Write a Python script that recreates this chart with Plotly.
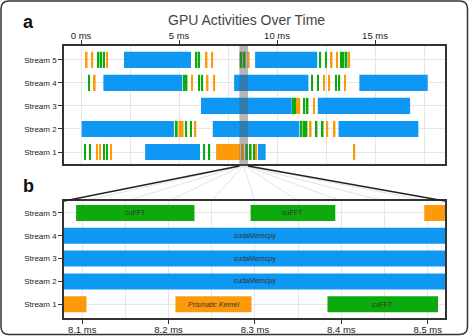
import plotly.graph_objects as go

# ---------------- data (ms) ----------------
streams = ["Stream 1", "Stream 2", "Stream 3", "Stream 4", "Stream 5"]

# cudaMemcpy segments (blue)
memcpy_stream = ["Stream 5", "Stream 5", "Stream 4", "Stream 4", "Stream 4",
                 "Stream 3", "Stream 3", "Stream 2", "Stream 2", "Stream 2",
                 "Stream 1", "Stream 1"]
memcpy_start = [2.19, 8.88, 1.14, 7.81, 14.20, 6.12, 12.08, 0.03, 6.72, 13.14, 3.27, 9.03]
memcpy_end = [5.61, 12.05, 5.17, 11.60, 17.69, 10.75, 16.79, 4.74, 11.14, 17.21, 6.07, 9.42]

# cuFFT segments (green)
fft_stream = (["Stream 5"] * 14 + ["Stream 4"] * 9 + ["Stream 3"] * 4 +
              ["Stream 2"] * 9 + ["Stream 1"] * 9)
fft_start = [0.86, 1.00, 1.13, 5.86, 5.98, 8.093, 8.295, 12.17, 12.47, 13.23, 13.36, 13.51, 0.0, 0.0,
             0.37, 5.23, 5.35, 5.98, 6.15, 11.76, 12.04, 12.97, 13.14,
             10.78, 10.88, 11.36, 11.52,
             4.79, 5.33, 5.57, 11.22, 11.35, 11.47, 11.98, 12.29, 0.0,
             0.16, 0.42, 1.14, 1.29, 6.25, 6.51, 8.384, 8.62, 8.78]
fft_end = [0.94, 1.08, 1.21, 5.94, 6.06, 8.230, 8.393, 12.25, 12.55, 13.31, 13.44, 13.59, 0.0, 0.0,
           0.45, 5.31, 5.43, 6.06, 6.23, 11.84, 12.12, 13.05, 13.22,
           10.86, 10.96, 11.44, 11.60,
           4.93, 5.41, 5.65, 11.30, 11.43, 11.55, 12.06, 12.37, 0.0,
           0.24, 0.50, 1.22, 1.37, 6.33, 6.59, 8.512, 8.70, 8.86]

# kernel segments (orange)
kern_stream = (["Stream 5"] * 10 + ["Stream 4"] * 6 + ["Stream 3"] * 3 +
               ["Stream 2"] * 4 + ["Stream 1"] * 9)
kern_start = [0.25, 0.54, 1.30, 6.37, 6.66, 8.496, 12.75, 13.02, 13.65, 0.0,
              0.66, 5.61, 6.42, 6.76, 12.37, 12.63,
              10.98, 11.10, 11.85,
              4.97, 5.80, 11.68, 12.53,
              0.77, 0.93, 1.50, 6.89, 8.208, 8.91, 13.91, 0.0, 0.0]
kern_end = [0.33, 0.62, 1.38, 6.45, 6.74, 8.60, 12.83, 13.10, 13.73, 0.0,
            0.74, 5.69, 6.50, 6.84, 12.45, 12.71,
            11.08, 11.18, 11.93,
            5.23, 5.88, 11.76, 12.61,
            0.85, 1.01, 1.58, 8.105, 8.296, 8.99, 13.99, 0.0, 0.0]

# a few extra orange marks on stream 4 / 2 right side
extra_kern_stream = ["Stream 4", "Stream 2"]
extra_kern_start = [13.43, 12.90]
extra_kern_end = [13.51, 12.98]

kind_labels = {"memcpy": "cudaMemcpy", "fft": "cuFFT", "kern": "Prismatic Kernel"}

full_range = [-0.87, 18.57]
zoom_range = [8.079, 8.520]

colors = {"memcpy": "#0F97F4", "fft": "#0CAA0C", "kern": "#FD9A0A"}

# ---------------- layout geometry ----------------
W, H = 469, 336
top_dom_x = [64 / W, 445 / W]
top_dom_y = [1 - 164 / H, 1 - 46 / H]
bot_dom_y = [1 - 318 / H, 1 - 201 / H]

font_family = "Liberation Sans, Arial, sans-serif"

fig = go.Figure()

series = [
    ("memcpy", memcpy_stream, memcpy_start, memcpy_end),
    ("fft", fft_stream, fft_start, fft_end),
    ("kern", kern_stream + extra_kern_stream, kern_start + extra_kern_start,
     kern_end + extra_kern_end),
]

for axis_suffix in ["", "2"]:
    for kind, st, s0, s1 in series:
        seg = [(a, b, c) for a, b, c in zip(st, s0, s1) if c > b]
        fig.add_trace(go.Bar(
            orientation="h",
            y=[p[0] for p in seg],
            base=[p[1] for p in seg],
            x=[p[2] - p[1] for p in seg],
            marker=dict(color=colors[kind], line=dict(width=0)),
            width=0.7,
            xaxis="x" + axis_suffix, yaxis="y" + axis_suffix,
            showlegend=False, hoverinfo="skip",
        ))

# labels in zoom panel
for kind, st, s0, s1 in series:
    for a, b, c in zip(st, s0, s1):
        lo, hi = max(b, zoom_range[0]), min(c, zoom_range[1])
        if hi - lo >= 0.05:
            txt = kind_labels[kind]
            if kind == "kern":
                txt = "<i>" + txt + "</i>"
            fig.add_annotation(x=(lo + hi) / 2, y=a, xref="x2", yref="y2", text=txt,
                               showarrow=False, font=dict(size=7, color="#333", family=font_family))

axis_common = dict(showline=True, linecolor="#333", linewidth=1.5, mirror=True,
                   gridcolor="#e6e6e6", gridwidth=1, zeroline=False,
                   ticks="outside", ticklen=4, tickcolor="#333",
                   tickfont=dict(size=9.5, color="#222", family=font_family))
yaxis_common = dict(axis_common, type="category", categoryorder="array",
                    categoryarray=streams, tickfont=dict(size=8, color="#222", family=font_family))

fig.update_layout(
    width=W, height=H, margin=dict(l=0, r=0, t=0, b=0),
    paper_bgcolor="white", plot_bgcolor="white",
    barmode="overlay", bargap=0.3,
    xaxis=dict(axis_common, domain=top_dom_x, anchor="y", side="top", range=full_range,
               tick0=0, dtick=5, ticksuffix=" ms", ticklabelstandoff=-3,
               minor=dict(dtick=2.5, tick0=0, showgrid=True, gridcolor="#e6e6e6")),
    yaxis=dict(yaxis_common, domain=top_dom_y, anchor="x", range=[-0.52, 4.6]),
    xaxis2=dict(axis_common, domain=top_dom_x, anchor="y2", range=zoom_range,
                tick0=8.1, dtick=0.1, tickformat=".1f", ticksuffix=" ms", ticklabelstandoff=-2,
                minor=dict(dtick=0.05, tick0=8.1, showgrid=True, gridcolor="#e6e6e6")),
    yaxis2=dict(yaxis_common, domain=bot_dom_y, anchor="x2", range=[-0.6, 4.52]),
    font=dict(family=font_family),
)

# highlight band on overview
fig.add_shape(type="rect", xref="x", yref="paper", x0=zoom_range[0], x1=zoom_range[1],
              y0=top_dom_y[0] - 2 / H, y1=top_dom_y[1], fillcolor="rgba(90,90,90,0.45)",
              line=dict(width=0), layer="above")


def top_paper_x(v):
    return top_dom_x[0] + (v - full_range[0]) / (full_range[1] - full_range[0]) * (top_dom_x[1] - top_dom_x[0])


def bot_paper_x(v):
    return top_dom_x[0] + (v - zoom_range[0]) / (zoom_range[1] - zoom_range[0]) * (top_dom_x[1] - top_dom_x[0])


y_from = top_dom_y[0] - 2 / H
y_to = bot_dom_y[1]
# fan lines at grid positions
grid_vals = [8.1, 8.15, 8.2, 8.25, 8.3, 8.35, 8.4, 8.45, 8.5]
for v in grid_vals:
    fig.add_shape(type="line", xref="paper", yref="paper",
                  x0=top_paper_x(v), y0=y_from, x1=bot_paper_x(v), y1=y_to,
                  line=dict(color="#e3e3e3", width=1), layer="below")
for v in zoom_range:
    fig.add_shape(type="line", xref="paper", yref="paper",
                  x0=top_paper_x(v), y0=y_from, x1=bot_paper_x(v), y1=y_to,
                  line=dict(color="#222", width=1.3))

# outer rounded border
l, r, b, t = 1 / W, 467.5 / W, 1 - 334.5 / H, 1 - 1 / H
rx, ry = 8 / W, 8 / H
path = (f"M {l+rx},{b} L {r-rx},{b} Q {r},{b} {r},{b+ry} L {r},{t-ry} Q {r},{t} {r-rx},{t} "
        f"L {l+rx},{t} Q {l},{t} {l},{t-ry} L {l},{b+ry} Q {l},{b} {l+rx},{b} Z")
fig.add_shape(type="path", xref="paper", yref="paper", path=path,
              line=dict(color="#333", width=1.5))

fig.add_annotation(x=246 / W, y=1 - 20 / H, xref="paper", yref="paper", text="GPU Activities Over Time",
                   showarrow=False, yanchor="middle", xanchor="center",
                   font=dict(size=14, color="#444", family=font_family))
fig.add_annotation(x=28 / W, y=1 - 22 / H, xref="paper", yref="paper", text="<b>a</b>",
                   showarrow=False, yanchor="middle", xanchor="center",
                   font=dict(size=18, color="#111", family=font_family))
fig.add_annotation(x=28 / W, y=1 - 186 / H, xref="paper", yref="paper", text="<b>b</b>",
                   showarrow=False, yanchor="middle", xanchor="center",
                   font=dict(size=18, color="#111", family=font_family))

fig.write_html("out.html")
